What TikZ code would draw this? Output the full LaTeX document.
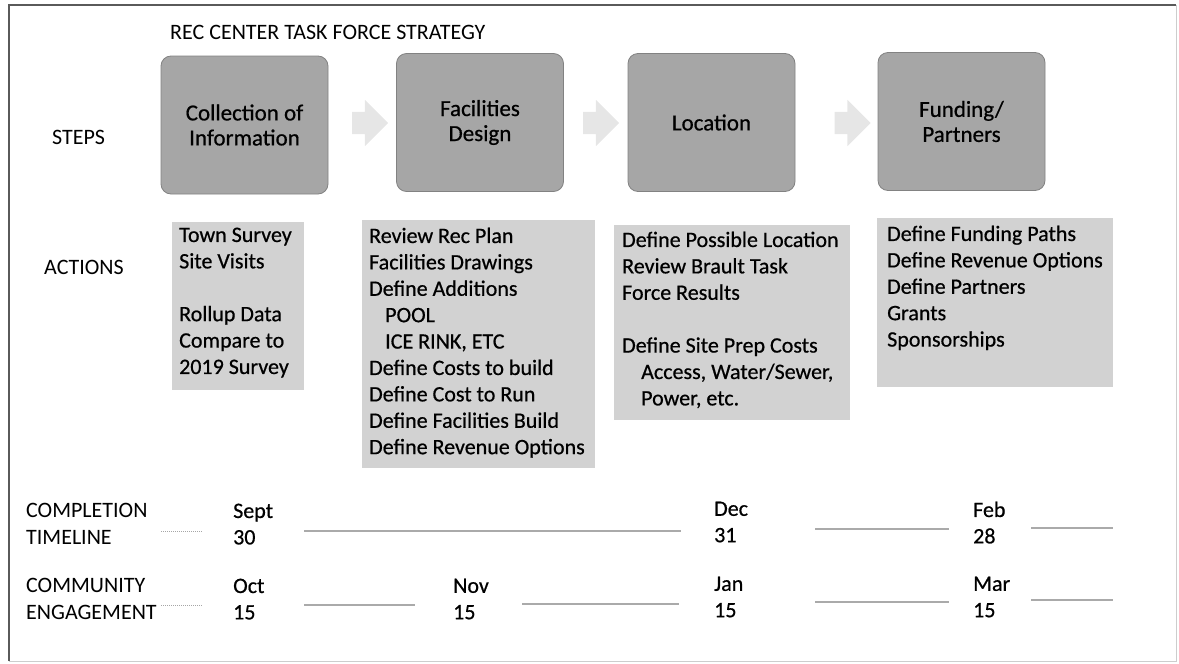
\documentclass[tikz,border=0pt]{standalone}
\usepackage{fontspec}
\setmainfont{Carlito}
\newfontfamily\heavyfont[FakeBold=0.6]{Carlito}
\usetikzlibrary{shapes.arrows}
\definecolor{stepfill}{RGB}{166,166,166}
\definecolor{stepdraw}{RGB}{130,130,130}
\definecolor{actfill}{RGB}{210,210,210}
\definecolor{arrfill}{RGB}{230,230,230}
\definecolor{tline}{RGB}{170,170,170}
\definecolor{framedark}{RGB}{90,90,90}
\definecolor{framelight}{RGB}{205,205,205}
\begin{document}
\begin{tikzpicture}[x=1pt,y=-1pt,
  stepbox/.style={draw=stepdraw, line width=0.8pt, fill=stepfill, rounded corners=10pt,
    minimum width=167pt, minimum height=138pt, inner sep=0pt, align=center,
    font=\heavyfont\fontsize{23}{25}\selectfont, text=black},
  actbox/.style={fill=actfill, inner sep=0pt, anchor=north west, draw=none},
  txt/.style={anchor=north west, inner sep=0pt, align=left,
    font=\fontsize{22}{26.4}\selectfont, execute at begin node=\strut},
  htxt/.style={txt, font=\heavyfont\fontsize{22}{26.4}\selectfont},
  chev/.style={single arrow, fill=arrfill, draw=none, minimum height=36pt,
    minimum width=46pt, inner sep=11pt, single arrow head extend=12pt},
  tl/.style={draw=tline, line width=1.2pt},
  tld/.style={draw=gray!70, line width=1pt, densely dotted}
]
\useasboundingbox (0,0) rectangle (1179,664);
% frame
\draw[framelight, line width=1pt] (9,5) -- (1176,5) -- (1176,661) -- (9,661) -- cycle;
\draw[framedark, line width=1.2pt] (9,661) -- (9,5) -- (1176,5);

% title and row labels
\node[txt] (title) at (170,20.5) {REC CENTER TASK FORCE STRATEGY};
\node[txt] (steps) at (52,125.5) {STEPS};
\node[txt] (actions) at (44,255.5) {ACTIONS};

% steps
\node[stepbox] (s1) at (244.5,125) {Collection of\\Information};
\node[stepbox] (s2) at (480,122.5) {Facilities\\Design};
\node[stepbox] (s3) at (711.5,122.5) {Location};
\node[stepbox] (s4) at (961.5,121.5) {Funding/\\Partners};

\node[chev] (a1) at (364.5,123) {};
\node[chev] (a2) at (595.5,123) {};
\node[chev] (a3) at (847,123) {};

% actions
\node[actbox, minimum width=132pt, minimum height=168pt] (b1) at (172,222) {};
\node[actbox, minimum width=233pt, minimum height=248pt] (b2) at (362,220) {};
\node[actbox, minimum width=236pt, minimum height=195pt] (b3) at (614,225) {};
\node[actbox, minimum width=236pt, minimum height=169pt] (b4) at (877,218) {};

\node[htxt] (t1) at (179,227.5) {Town Survey\\Site Visits\\[26.4pt]Rollup Data\\Compare to\\2019 Survey};
\node[htxt] (t2) at (369,227.5) {Review Rec Plan\\Facilities Drawings\\Define Additions\\
  \hspace*{16pt}POOL\\\hspace*{16pt}ICE RINK, ETC\\Define Costs to build\\Define Cost to Run\\
  Define Facilities Build\\Define Revenue Options};
\node[htxt] (t3) at (622,231.5) {Define Possible Location\\Review Brault Task\\Force Results\\[26.4pt]
  Define Site Prep Costs\\\hspace*{19pt}Access, Water/Sewer,\\\hspace*{19pt}Power, etc.};
\node[htxt] (t4) at (887,225.5) {Define Funding Paths\\Define Revenue Options\\Define Partners\\Grants\\Sponsorships};

% timeline
\node[txt] (comp) at (26,503.5) {COMPLETION\\TIMELINE};
\node[txt] (comm) at (26,578.5) {COMMUNITY\\ENGAGEMENT};
\node[htxt] (sept) at (233,503.5) {Sept\\30};
\node[htxt] (dec) at (714,501.5) {Dec\\31};
\node[htxt] (feb) at (973,501.5) {Feb\\28};
\node[htxt] (oct) at (233,578.5) {Oct\\15};
\node[htxt] (nov) at (453,578.5) {Nov\\15};
\node[htxt] (jan) at (714,576.5) {Jan\\15};
\node[htxt] (mar) at (973,576.5) {Mar\\15};

\draw[tld] (161,531) -- (203,531);
\draw[tl] (304,531) -- (681,531);
\draw[tl] (815,529) -- (949,529);
\draw[tl] (1031,528) -- (1113,528);
\draw[tld] (161,605) -- (203,605);
\draw[tl] (304,605) -- (415,605);
\draw[tl] (522,604) -- (679,604);
\draw[tl] (815,602) -- (949,602);
\draw[tl] (1031,600) -- (1113,600);
\end{tikzpicture}
\end{document}
